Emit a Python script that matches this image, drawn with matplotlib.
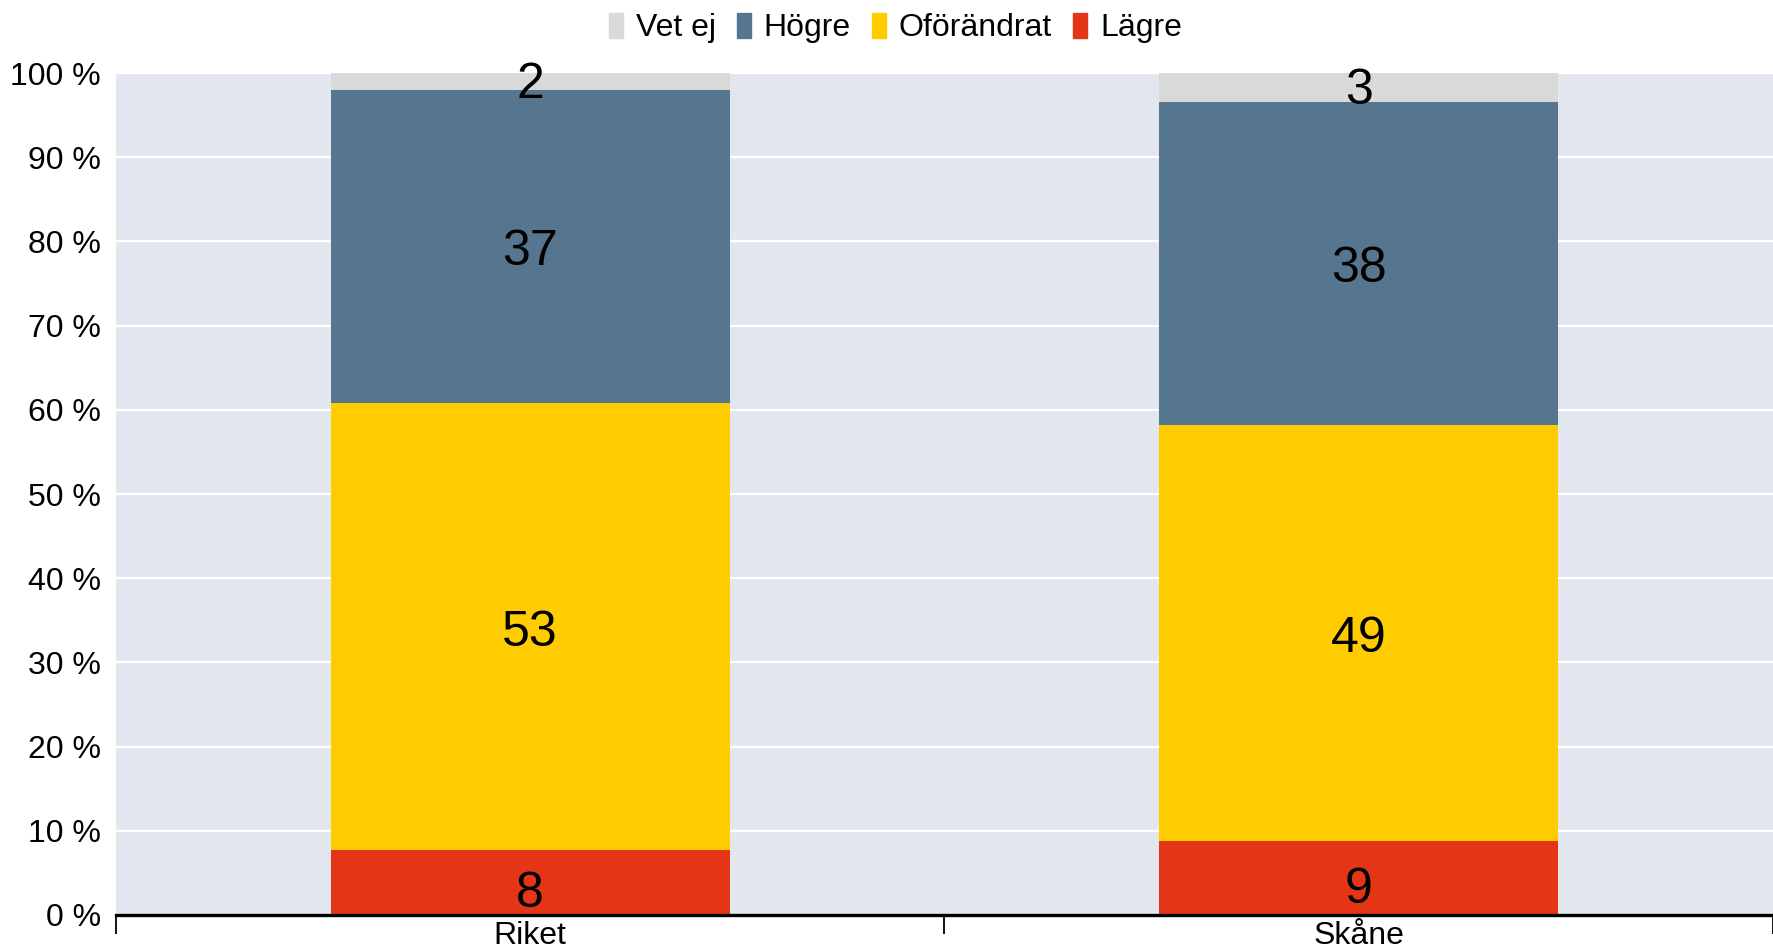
import matplotlib.pyplot as plt
from matplotlib.patches import Patch

plt.rcParams['font.family'] = ['Liberation Sans', 'DejaVu Sans']

# Data
regions = ["Riket", "Skåne"]
lagre = [7.7, 8.8]
oforandrat = [53.1, 49.4]
hogre = [37.2, 38.4]
vet_ej = [2.0, 3.4]
lagre_lbl = [8, 9]
oforandrat_lbl = [53, 49]
hogre_lbl = [37, 38]
vet_ej_lbl = [2, 3]

colors = {"Vet ej": "#D9D9D9", "Högre": "#56758F",
          "Oförändrat": "#FFCC00", "Lägre": "#E43517"}

fig = plt.figure(figsize=(17.73, 9.47), dpi=100)
ax = fig.add_axes([0.0654, 0.0338, 0.9346, 0.8891])
ax.set_facecolor("#E2E7EF")

x = list(range(len(regions)))
w = 0.482
bottom = [0.0] * len(x)
series = [("Lägre", lagre, lagre_lbl), ("Oförändrat", oforandrat, oforandrat_lbl),
          ("Högre", hogre, hogre_lbl), ("Vet ej", vet_ej, vet_ej_lbl)]
for name, vals, lbls in series:
    ax.bar(x, vals, w, bottom=bottom, color=colors[name], zorder=2)
    for i in x:
        yc = bottom[i] + vals[i] / 2 - 0.7
        if name == "Vet ej":
            yc = bottom[i] + vals[i] / 2 - 0.4
        elif name == "Lägre":
            yc = bottom[i] + vals[i] / 2 - 1.4
        ax.text(i, yc, str(lbls[i]), ha="center", va="center",
                fontsize=36, color="black", zorder=3)
    bottom = [b + v for b, v in zip(bottom, vals)]

ax.set_ylim(0, 100)
ax.set_xlim(-0.5, 1.485)
ax.set_yticks(range(0, 101, 10))
ax.set_yticklabels([f"{t} %" for t in range(0, 101, 10)], fontsize=23)
ax.tick_params(axis="y", length=0, pad=11)
ax.set_xticks(x)
ax.set_xticklabels(regions, fontsize=23)
ax.set_xticks([-0.5, 0.5, 1.5], minor=True)
ax.tick_params(axis="x", which="major", length=0, pad=4)
ax.tick_params(axis="x", which="minor", length=14, width=1.3, direction="out")

ax.grid(axis="y", color="white", linewidth=1.6, zorder=1)
ax.set_axisbelow(True)
for s in ["top", "right", "left"]:
    ax.spines[s].set_visible(False)
ax.spines["bottom"].set_linewidth(2.4)
ax.spines["bottom"].set_zorder(4)

handles = [Patch(color=colors[n]) for n in ["Vet ej", "Högre", "Oförändrat", "Lägre"]]
fig.legend(handles, ["Vet ej", "Högre", "Oförändrat", "Lägre"], loc="center",
           bbox_to_anchor=(0.505, 0.9705), ncol=4, frameon=False, fontsize=23,
           handlelength=0.45, handleheight=0.85, handletextpad=0.4, columnspacing=0.65)

fig.savefig("out.png", dpi=100)
